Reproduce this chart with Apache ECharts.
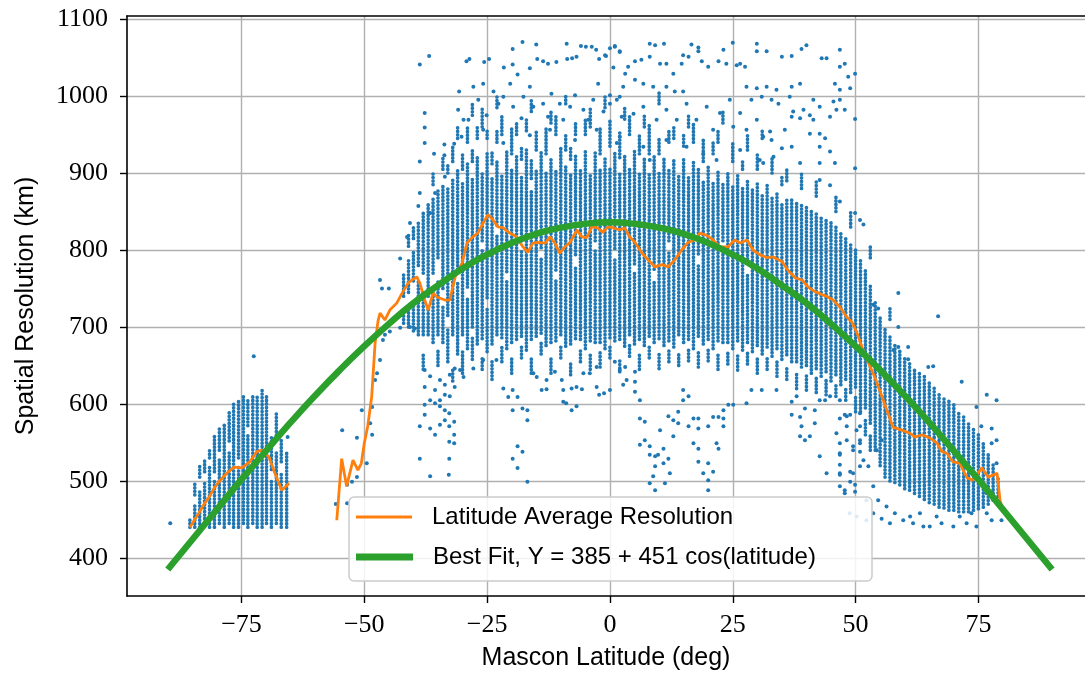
<!DOCTYPE html>
<html><head><meta charset="utf-8">
<script src="https://cdn.jsdelivr.net/npm/echarts@6/dist/echarts.min.js"></script>
<style>html,body{margin:0;padding:0;background:#fff}#c{width:1085px;height:677px}</style>
</head><body><div id="c"></div>
<script>
const xTicks = [-75, -50, -25, 0, 25, 50, 75];
const yTicks = [400, 500, 600, 700, 800, 900, 1000, 1100];

// Best fit curve
const fitLat = [-90,-85,-80,-75,-70,-65,-60,-55,-50,-45,-40,-35,-30,-25,-20,-15,-10,-5,0,5,10,15,20,25,30,35,40,45,50,55,60,65,70,75,80,85,90];
const fitRes = [385,424,463,502,539,576,611,644,675,704,731,754,776,794,809,821,829,834,836,834,829,821,809,794,776,754,731,704,675,644,611,576,539,502,463,424,385];

// Latitude average resolution (orange), two pieces
const avgSouth = [[-85.5,440],[-84.6,449],[-83.7,458],[-82.6,470],[-81.6,479],[-80.6,490],[-79.6,499],[-78,510],[-76.5,518],[-74.9,517],[-73.3,525],[-71.9,538],[-70.8,540],[-69.4,531],[-68.2,510],[-66.8,488],[-65.3,497]];
const avgMain = [[-55.6,449],[-54.6,529],[-53.6,493],[-52.3,527],[-51.3,514],[-50.6,523],[-50.0,549],[-49.3,571],[-48.5,609],[-47.8,679],[-47.2,708],[-46.8,718],[-45.8,709],[-44.8,722],[-43.4,731],[-42.3,744],[-41.1,757],[-40.3,761],[-39.3,765],[-38.7,757],[-37.7,735],[-37,722],[-36,744],[-35.2,739],[-33.6,735],[-32.6,735],[-31.5,765],[-30.1,783],[-29.1,809],[-27.9,817],[-26.9,822],[-25.8,835],[-24.8,846],[-23.8,839],[-22.8,830],[-21.8,829],[-20.4,822],[-19,817],[-17.7,804],[-16.7,797],[-15.7,809],[-14.7,810],[-13.2,809],[-12.2,817],[-11.2,809],[-10.2,796],[-9.2,804],[-8.1,810],[-6.7,826],[-5.7,817],[-4.7,816],[-3.7,830],[-2.6,829],[-1.4,823],[-0.4,830],[0.6,829],[2,826],[3,829],[4,817],[5.1,810],[6.5,796],[7.8,787],[9.2,778],[10.6,781],[11.8,778],[13.2,787],[14.6,800],[15.9,810],[17.3,813],[18.3,822],[19.7,819],[21,813],[22.4,804],[24,804],[25.4,813],[26.5,809],[27.9,813],[29.1,800],[30.5,794],[32,790],[33.2,791],[35,785],[36.2,774],[37.7,764],[39.1,761],[40.3,752],[41.7,746],[43.2,742],[44.4,739],[45.4,735],[46.8,726],[48.2,713],[49.3,706],[50.3,692],[51.3,674],[52.5,655],[53.9,635],[55.4,609],[56.6,588],[57.6,570],[59.4,566],[61.1,562],[62.1,557],[63.5,560],[65.1,556],[66.6,549],[67.6,538],[68.6,536],[69.8,525],[71.2,523],[72.7,504],[73.9,501],[75.7,517],[77,505],[78.8,510],[79.4,475],[79.8,466]];

// Dense mascon columns: [latitude, lowest, highest] runs of points
const stripes = [
[-85.5,440,452],[-84.5,440,470],[-84.5,482,500],[-83.5,440,490],[-83.5,505,520],[-82.5,442,500],[-82.5,512,530],[-81.5,440,520],[-81.5,530,542],[-80.5,440,500],[-80.5,512,560],[-79.5,445,530],[-79.5,540,570],[-78.5,440,575],[-77.5,445,540],[-77.5,552,590],[-76.6,440,600],[-75.6,440,520],[-75.6,530,605],[-74.6,445,610],[-73.7,440,560],[-73.7,572,605],[-72.7,445,612],[-71.8,440,612],[-70.8,440,530],[-70.8,540,618],[-69.9,445,612],[-68.9,440,500],[-68.9,515,560],[-67.9,445,540],[-67.9,555,590],[-66.9,440,510],[-66.9,525,555],[-65.8,440,540],
[-42,705,720],[-42,740,770],[-41,700,725],[-41,745,790],[-41,805,820],[-40,695,735],[-40,760,800],[-40,815,830],[-39,690,760],[-39,780,835],[-38,645,665],[-38,690,745],[-38,770,850],[-37,690,725],[-37,740,860],[-36,680,750],[-36,770,868],[-36,885,900],[-35,650,670],[-35,690,760],[-35,790,878],[-34,680,730],[-34,750,885],[-34,905,920],
[-33,655,700],[-33,715,880],[-33,900,912],[-32,630,648],[-32,690,895],[-32,915,935],[-31,665,760],[-31,775,905],[-31,945,960],[-30,640,668],[-30,690,890],[-30,905,925],[-29,672,740],[-29,752,912],[-29,940,960],[-28,658,688],[-28,700,895],[-28,915,930],[-28,975,990],[-27,678,920],[-27,945,962],[-26,645,662],[-26,685,800],[-26,812,900],[-26,960,985],[-25,668,725],[-25,738,925],[-25,945,958],[-24,632,655],[-24,678,893],[-24,912,930],[-23,690,820],[-23,832,918],[-23,940,955],[-23,985,1000],[-22,655,675],[-22,686,900],[-22,950,975],[-21,672,760],[-21,772,928],[-20,640,660],[-20,680,905],[-20,925,960],[-19,684,925],[-19,950,968],[-18,660,676],[-18,688,800],[-18,812,898],[-18,918,935],[-17,670,930],[-17,955,970],[-16,640,660],[-16,684,880],[-16,893,918],[-16,980,995],[-15,688,905],[-15,930,955],[-14,665,680],[-14,692,790],[-14,803,930],[-13,676,900],[-13,925,960],[-12,640,660],[-12,680,920],[-12,965,980],[-11,682,760],[-11,774,905],[-11,950,975],[-10,660,676],[-10,690,932],[-9,675,910],[-9,930,950],[-9,990,1002],[-8,638,656],[-8,678,898],[-8,918,932],[-7,685,780],[-7,794,925],[-7,950,965],[-6,655,672],[-6,684,905],[-5,672,930],[-5,950,972],[-4,645,664],[-4,682,900],[-4,960,985],[-3,680,800],[-3,812,928],[-2,648,668],[-2,680,905],[-2,925,960],[-1,672,922],[-1,985,1000],[0,660,676],[0,686,908],[0,935,970],[1,682,790],[1,802,928],[2,642,660],[2,684,900],[2,920,955],[3,675,925],[3,970,985],[4,662,678],[4,690,905],[4,950,975],[5,678,770],[5,782,930],[6,645,665],[6,684,900],[6,925,948],[7,676,920],[7,960,975],[8,660,676],[8,688,902],[8,925,965],[9,680,760],[9,775,925],[10,646,666],[10,685,900],[10,925,945],[10,990,1005],[11,676,918],[12,655,672],[12,682,800],[12,812,905],[12,940,955],[13,674,920],[13,945,960],[14,650,668],[14,690,898],[15,680,918],[15,935,950],[16,656,672],[16,684,895],[16,960,975],[17,672,915],[17,940,965],[18,648,668],[18,688,780],[18,795,905],[19,678,892],[19,915,945],[20,656,674],[20,684,910],[21,672,890],[21,925,940],[22,645,664],[22,682,905],[22,940,955],[23,680,800],[23,812,888],[23,965,980],[24,652,670],[24,680,900],[25,672,885],[25,915,940],[26,644,664],[26,682,898],[27,670,880],[27,905,915],[28,652,668],[28,680,770],[28,784,892],[28,930,950],[29,668,878],[30,640,660],[30,676,888],[30,905,925],[31,665,872],[31,945,958],[32,645,662],[32,674,884],[33,662,868],[33,900,920],[34,636,655],[34,672,876],[35,658,862],[35,885,895],
[36,632,650],[36,664,868],[36,890,905],[37,655,865],[38,620,642],[38,655,862],[39,648,858],[39,880,900],[40,618,638],[40,650,856],[41,640,852],[42,615,635],[42,646,848],[42,870,890],[43,636,845],[44,612,632],[44,642,840],[45,630,836],[46,610,628],[46,638,830],[46,850,870],[47,625,825],[48,605,622],[48,632,815],[49,615,808],[49,830,850],[50,590,612],[50,622,800],[51,590,790],[52,560,580],[52,595,775],[53,540,560],[53,575,755],[53,790,805],[54,540,735],[55,520,715],[56,505,700],[57,500,690],[57,710,725],[58,498,680],[59,495,672],[60,490,662],[61,488,655],[62,484,648],[63,480,642],[64,476,636],[65,472,630],[66,470,622],[67,466,616],[68,465,610],[69,462,605],[70,462,600],[71,460,592],[72,460,585],[73,460,576],[74,462,568],[75,464,560],[76,466,550],[77,470,538],[78,475,522],[79,480,505]
];

// Scattered single mascons: [latitude, resolution]
const dots = [
[-89.5,445],[-72.5,662],[-65.6,557],
[-55.8,470],[-54.5,566],[-53.5,471],[-53.5,495],[-52.5,499],[-51.5,505],[-51.5,556],[-50.5,592],[-49.5,523],[-48.8,575],[-48.4,560],[-48.4,596],[-47.8,631],[-47.4,640],[-46.8,657],[-46.2,683],[-45.8,690],[-44.8,694],[-42.7,699],[-40.7,700],[-39.7,698],[-46.8,761],[-46.4,750],[-45.0,750],[-42.7,789],[-41.3,817],[-40.7,835],[-39.0,857],[-38.7,874],
[-19.8,1061],[-17.8,1070],[-15.0,1067],[-8.8,1068],[-5.9,1065],[-4.9,1064],[-3.7,1064],[-2.8,1060],[1.0,1064],[2.0,1058],[-29.2,1045],[-28.6,1048],[-25.6,1044],[-24.6,1048],[-21.6,1037],[-19.8,1041],[-18.8,1028],[-16.3,1036],[-14.8,1048],[-13.6,1045],[-12.6,1042],[-10.9,1044],[-8.7,1048],[-7.7,1049],[-6.8,1051],[-2.2,1048],[-0.8,1052],[0.7,1037],[2.7,1012],[-36.8,1052],[-38.7,1041],
[-37.7,978],[-37.7,959],[-37.7,939],[-38.7,915],[-35.8,925],[-33.7,923],[-33.7,937],[-31.7,938],[-30.9,982],[-30.7,1006],[-29.8,969],[-28.8,969],[-27.8,1012],[-26.8,995],[-25.8,1016],[-25.1,975],[-23.7,1006],[-22.7,990],[-21.7,999],[-20.3,1016],[-19.7,986],[-18.0,971],[-17.6,999],[-16.3,1012],[-15.6,986],[-13.6,990],[-12.6,973],[-11.9,1003],[-10.2,990],[-9.5,969],[-8.1,986],[-7.1,1001],[-5.4,982],[-4.4,969],[-3.4,995],[-2.4,1016],[-1.3,980],[0.0,1001],[1.4,995],[2.4,973],[-30.2,947],[-25.8,956],[-21.7,939],[-16.3,949],[-12.2,956],[-7.1,943],[-2.7,956],[1.4,939],[-33.6,895],[-35.6,874],[-36.6,848],
[-1.0,1053],[0.0,1062],[1.0,1065],[2.0,1057],[8.1,1068],[9.2,1066],[11.0,1068],[14.9,1053],[16.6,1067],[18.0,1063],[18.0,1058],[23.1,1060],[25.0,1069],[29.9,1068],[29.9,1058],[31.9,1058],[35.0,1051],[37.0,1052],[39.0,1061],[40.0,1066],[46.8,1060],[43.1,1049],[44.1,1049],[46.8,1038],[47.8,1042],[49.9,1029],[48.5,1025],[48.9,1010],[46.8,1008],[45.8,1016],[45.5,993],[46.8,995],[46.1,982],[47.8,982],[44.8,973],[49.9,970],[40.7,975],[38.7,971],[37.0,973],[41.4,969],[42.7,951],[40.7,951],[43.8,945],[44.8,928],[45.8,913],[42.7,934],[42.7,913],[38.7,913],[37.0,934],[35.0,932],[32.9,943],[35.6,956],[32.6,954],[33.3,921],[31.2,913],[42.7,891],[44.8,884],[46.8,863],[49.9,906],[49.9,848],[51.6,833],[50.9,839],
[26.5,1042],[27.5,1038],[25.8,1040],[23.7,1042],[22.1,1045],[20.0,1038],[18.7,1045],[16.0,1051],[14.6,1042],[12.9,1029],[11.5,1042],[10.2,1042],[8.1,1051],[6.4,1047],[5.1,1045],[3.7,1038],[3.1,1029],[5.1,1021],[6.8,1016],[8.8,1012],[11.5,1012],[13.2,1006],[14.9,1006],[27.8,1012],[29.9,1010],[31.9,1012],[33.9,1008],[37.0,1012],[38.7,1016],[28.8,995],[30.9,999],[32.9,995],[34.3,990],[36.6,999],[37.3,980],[39.4,982],[42.7,986],[41.4,995],
[0.0,990],[2.0,999],[4.8,977],[6.8,986],[9.5,969],[11.5,982],[13.6,969],[15.6,990],[17.6,969],[19.7,986],[21.0,956],[22.4,978],[24.4,995],[25.1,960],[26.5,978],[27.8,956],[29.9,969],[31.2,947],[15.6,934],[11.5,943],[6.8,934],[2.0,947],[19.0,925],[26.5,930],[30.5,917],[8.1,917],[21.7,917],
[-38.7,571],[-37.7,644],[-36.6,636],[-35.6,618],[-34.6,631],[-33.6,625],[-32.6,638],[-31.6,646],[-36.6,605],[-37.7,599],[-37.7,586],[-36.6,568],[-35.6,560],[-34.6,573],[-33.6,592],[-33.6,579],[-32.7,588],[-32.7,571],[-31.7,577],[-31.7,560],[-31.7,549],[-32.7,551],[-32.7,529],[-38.7,529],[-36.6,506],[-32.8,508],[-34.6,605],[-34.6,597],[-35.6,601],[-37.7,622],[-33.6,612],[-32.6,610],[-31.6,622],[-30.5,644],[-29.8,635],[-27.8,646],[-25.8,657],[-23.1,657],[-21.7,620],[-19.8,618],[-18.8,609],[-20.7,609],[-19.8,592],[-17.8,594],[-16.8,592],[-16.8,579],[-18.8,545],[-17.8,538],[-19.8,529],[-18.8,517],[-16.8,499],[-13.9,618],[-12.9,619],[-9.5,618],[-7.8,620],[-6.8,622],[-5.7,619],[-9.5,603],[-8.9,601],[-6.8,597],[-7.8,592],[-2.2,612],[-1.2,614],[0.0,618],[-2.7,622],[2.7,625],[3.4,631],[2.0,644],[-9.8,631],[-15.6,640],[-14.9,635],[-12.9,631],[-11.2,642],[-5.4,640],[-4.1,640],[-2.7,648],
[1.0,655],[3.1,648],[5.1,642],[5.1,629],[5.1,616],[6.1,605],[6.1,581],[7.1,577],[6.1,547],[7.1,553],[8.1,545],[8.1,534],[9.2,532],[9.2,519],[8.1,497],[8.8,506],[9.2,488],[9.8,534],[10.9,542],[10.9,523],[11.2,497],[11.9,529],[12.2,510],[10.2,566],[11.9,584],[12.9,579],[13.9,590],[13.9,575],[12.9,558],[14.9,618],[14.9,605],[16.0,610],[17.0,581],[16.0,571],[18.0,581],[18.0,568],[17.0,549],[18.0,542],[18.0,525],[19.0,510],[20.0,523],[20.0,501],[21.0,512],[20.0,488],[21.7,549],[22.1,542],[20.0,571],[21.0,583],[22.1,583],[23.1,581],[23.1,592],[24.1,599],[25.1,599],[23.1,571],[27.8,601],[28.8,618],[30.9,618],[33.9,618],[37.0,603],[37.0,586],[38.0,610],[38.7,583],[39.0,571],[38.7,558],[39.7,553],[40.7,558],[39.7,594],[41.7,592],[41.7,575],[42.7,605],[43.8,605],[44.8,610],[46.8,605],[46.8,581],[48.2,584],[48.9,586],[46.8,549],[48.2,553],[46.8,534],[46.8,521],[46.8,508],[48.9,512],[48.9,499],[47.8,488],[49.9,486],[49.9,495],[50.9,588],[50.9,571],[50.9,553],[50.9,538],[50.9,519],[49.5,545],
[58.7,744],[53.6,729],[54.6,724],[58.7,700],[60.7,674],[58.7,674],[60.7,658],[57.7,670],[64.8,648],[65.8,649],[71.6,629],[76.7,612],[78.7,605],[66.8,714],[74.6,596],[75.6,571],[77.7,568],[77.7,549],[78.7,553],[78.7,523],[76.7,484],[76.7,458],[77.7,449],[79.7,449],[74.6,441],[72.6,445],[69.9,441],[67.5,445],[65.1,441],[63.8,441],[61.7,445],[59.7,449],[57.0,445],[55.3,451],[53.6,458],[52.2,449],[50.2,454],[48.8,458],[47.8,484],[46.8,510],[46.8,536],[49.5,510],[49.5,540],[50.9,549],[51.6,527],[52.6,519],[53.6,493],[54.6,475],[52.2,475],[56.3,467],[58.0,458],[61.1,454],[63.1,458],[66.5,454],[71.2,454],[73.6,458],[54.3,540],[55.3,553],[50.2,566],[48.2,571],[46.1,562],[47.8,586],[46.8,493],[44.1,510],[42.7,532]
];

const BLUE = '#1f77b4';
const minusFmt = v => (v < 0 ? '\u2212' + Math.abs(v) : String(v));
const chart = echarts.init(document.getElementById('c'), null, { renderer: 'canvas' });

const nameAvg = 'Latitude Average Resolution';
const nameFit = 'Best Fit, Y = 385 + 451 cos(latitude)';

const axisCommon = {
  axisLine: { show: true, onZero: false, lineStyle: { color: '#000', width: 1.6 } },
  axisTick: { show: true, inside: false, length: 7, lineStyle: { color: '#000', width: 1.4 } },
  splitLine: { show: true, lineStyle: { color: '#b0b0b0', width: 1.4 } },
};

chart.setOption({
  animation: false,
  backgroundColor: '#fff',
  grid: { left: 127, top: 16, right: 0, bottom: 81, containLabel: false },
  xAxis: [{
    type: 'value', min: -98.3, max: 96.7, position: 'bottom',
    ...axisCommon,
    axisTick: { ...axisCommon.axisTick, customValues: xTicks },
    axisLabel: { customValues: xTicks, formatter: minusFmt, margin: 16, color: '#000',
      fontFamily: 'Liberation Serif', fontSize: 26, lineHeight: 26 },
    name: 'Mascon Latitude (deg)', nameLocation: 'middle', nameGap: 50,
    nameTextStyle: { fontFamily: 'Liberation Sans', fontSize: 25, color: '#000' }
  }, {
    type: 'value', min: -98.3, max: 96.7, position: 'top',
    axisLine: { show: true, onZero: false, lineStyle: { color: '#000', width: 1.6 } },
    axisTick: { show: false }, axisLabel: { show: false }, splitLine: { show: false }
  }],
  yAxis: {
    type: 'value', min: 350.6, max: 1103.9,
    ...axisCommon,
    axisTick: { ...axisCommon.axisTick, customValues: yTicks },
    axisLabel: { customValues: yTicks, formatter: v => String(v), margin: 19, color: '#000',
      fontFamily: 'Liberation Serif', fontSize: 26 },
    name: 'Spatial Resolution (km)', nameLocation: 'middle', nameGap: 88,
    nameTextStyle: { fontFamily: 'Liberation Sans', fontSize: 25, color: '#000' }
  },
  legend: [
    { data: [nameAvg], left: 356, top: 504, padding: 0, itemWidth: 56, itemHeight: 3, icon: 'rect',
      selectedMode: false, z: 6,
      textStyle: { fontFamily: 'Liberation Sans', fontSize: 24, lineHeight: 26, color: '#000', padding: [0, 0, 0, 15] } },
    { data: [nameFit], left: 356, top: 544, padding: 0, itemWidth: 57, itemHeight: 7, icon: 'rect',
      selectedMode: false, z: 6,
      textStyle: { fontFamily: 'Liberation Sans', fontSize: 24, lineHeight: 26, color: '#000', padding: [0, 0, 0, 15] } }
  ],
  graphic: { elements: [
    { type: 'rect', silent: true, z: 5,
      shape: { x: 349, y: 497, width: 523, height: 84, r: 5 },
      style: { fill: 'rgba(255,255,255,0.85)', stroke: '#cccccc', lineWidth: 1.5 } }
  ] },
  series: [
    { type: 'custom', name: 'columns', z: 1, clip: true,
      data: stripes,
      encode: { x: 0, y: [1, 2] },
      renderItem: function (params, api) {
        const a = api.coord([api.value(0), api.value(1)]);
        const b = api.coord([api.value(0), api.value(2)]);
        return { type: 'line', shape: { x1: a[0], y1: a[1], x2: b[0], y2: b[1] },
          style: { stroke: BLUE, lineWidth: 3.7, lineCap: 'round', lineDash: [0.01, 3.5] } };
      }
    },
    { type: 'scatter', name: 'mascons', z: 1, data: dots, symbolSize: 4,
      itemStyle: { color: BLUE, opacity: 1 } },
    { type: 'line', name: nameAvg, z: 3, showSymbol: false, symbol: 'none',
      data: avgSouth.concat([[-60, '-']], avgMain), connectNulls: false,
      itemStyle: { color: '#ff7f0e' },
      lineStyle: { color: '#ff7f0e', width: 2.8 } },
    { type: 'line', name: nameFit, z: 4, showSymbol: false, symbol: 'none', smooth: true,
      data: fitLat.map((x, i) => [x, fitRes[i]]),
      itemStyle: { color: '#2ca02c' },
      lineStyle: { color: '#2ca02c', width: 6.5, cap: 'butt' } }
  ]
});
</script>
</body></html>
